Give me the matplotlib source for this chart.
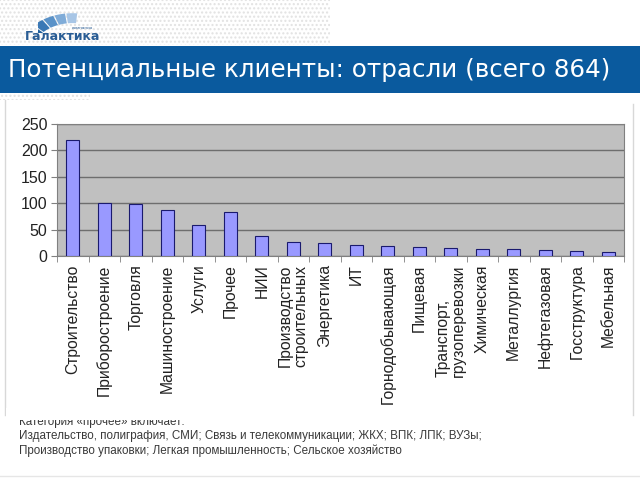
import matplotlib.pyplot as plt
import matplotlib.patches as mpatches
import numpy as np

# data
categories = ["Строительство", "Приборостроение", "Торговля", "Машиностроение",
              "Услуги", "Прочее", "НИИ", "Производство\nстроительных", "Энергетика",
              "ИТ", "Горнодобывающая", "Пищевая", "Транспорт,\nгрузоперевозки",
              "Химическая", "Металлургия", "Нефтегазовая", "Госструктура", "Мебельная"]
counts = [220, 100, 98, 87, 58, 83, 37, 27, 25, 21, 19, 17, 15, 14, 14, 11, 10, 8]
yticks = [0, 50, 100, 150, 200, 250]

title = "Потенциальные клиенты: отрасли (всего 864)"
note_lines = ["Категория «прочее» включает:",
              "Издательство, полиграфия, СМИ; Связь и телекоммуникации; ЖКХ; ВПК; ЛПК; ВУЗы;",
              "Производство упаковки; Легкая промышленность; Сельское хозяйство"]

W, H = 640, 480
fig = plt.figure(figsize=(6.4, 4.8), dpi=100)
fig.patch.set_facecolor("white")

def fx(px):
    return px / W

def fy(py):
    return 1 - py / H

# dotted texture at top-left
tex = mpatches.Rectangle((0, fy(45)), fx(330), 45 / H, transform=fig.transFigure,
                         facecolor="none", edgecolor="#e2e2e2", hatch="....", lw=0, zorder=-2)
fig.patches.append(tex)
tex2 = mpatches.Rectangle((0, fy(100)), fx(90), 7 / H, transform=fig.transFigure,
                          facecolor="none", edgecolor="#e2e2e2", hatch="....", lw=0, zorder=-2)
fig.patches.append(tex2)

# logo: arc of blue segments, dark at lower left, light at upper right
logo_ax = fig.add_axes([fx(38), fy(33), fx(45), 22 / H])
logo_ax.patch.set_alpha(0)
logo_ax.axis("off")
seg_cols = ["#1f5f9e", "#3a78b5", "#5a92c8", "#80acd8", "#a8c6e6"]
for i, c in enumerate(seg_cols):
    w = mpatches.Wedge((1.05, -0.9), 1.8, 150 - (i + 1) * 13, 150 - i * 13 - 1.5, width=0.45,
                       facecolor=c, edgecolor="none")
    logo_ax.add_patch(w)
logo_ax.set_xlim(-0.1, 1.4)
logo_ax.set_ylim(0, 1)
fig.text(fx(25), fy(37), "Галактика", fontsize=9, fontweight="bold", color="#2a5d95",
         va="center", ha="left")
fig.text(fx(72), fy(28), "компания", fontsize=3, color="#2a5d95", va="center", ha="left")

# title banner
banner = mpatches.Rectangle((0, fy(93)), 1, 47 / H, transform=fig.transFigure,
                            facecolor="#0a5a9e", edgecolor="none")
fig.patches.append(banner)
fig.text(fx(8), fy(70), title, fontsize=17.7, color="white", va="center", ha="left",
         family="DejaVu Sans")

# frame lines of chart object
fig.add_artist(plt.Line2D([fx(5), fx(5)], [fy(100), fy(415)], color="#d8d8d8", lw=1))
fig.add_artist(plt.Line2D([fx(633), fx(633)], [fy(104), fy(415)], color="#d8d8d8", lw=1))
fig.add_artist(plt.Line2D([0, 1], [fy(476), fy(476)], color="#e6e6e6", lw=1))

# chart
ax = fig.add_axes([fx(57), fy(256), fx(624 - 57), (256 - 124) / H])
x = np.arange(len(categories))
ax.set_facecolor("#c0c0c0")
ax.bar(x, counts, width=0.42, color="#9999ff", edgecolor="#1a1a6e", lw=0.8, zorder=3)
ax.set_xlim(-0.5, len(categories) - 0.5)
ax.set_ylim(0, 250)
ax.set_yticks(yticks)
ax.set_yticklabels([str(v) for v in yticks], fontsize=11.5, family="Liberation Sans",
                   color="#222222")
ax.yaxis.grid(True, color="#6e6e6e", lw=1, zorder=0)
ax.set_axisbelow(True)
ax.set_xticks(x)
ax.set_xticklabels(categories, rotation=90, fontsize=11.3, family="Liberation Sans",
                   va="top", ha="center", multialignment="left", linespacing=1.0,
                   color="#222222")
ax.tick_params(axis="x", length=0, pad=6)
ax.set_xticks(np.arange(-0.5, len(categories)), minor=True)
ax.tick_params(axis="x", which="minor", length=4, color="#808080")
ax.tick_params(axis="y", length=4, color="#808080", pad=3)
for s in ["top", "right", "left", "bottom"]:
    ax.spines[s].set_color("#808080")

# note text (first line partly hidden by the chart object)
ys = [422, 436, 451]
for line, yy in zip(note_lines, ys):
    fig.text(fx(19), fy(yy), line, fontsize=8.4, color="#3a3a3a", va="center", ha="left",
             family="Liberation Sans")
cover = mpatches.Rectangle((fx(6), fy(420)), fx(626), 12 / H, transform=fig.transFigure,
                           facecolor="white", edgecolor="none", zorder=5)
fig.patches.append(cover)

fig.savefig("out.png", dpi=100)
